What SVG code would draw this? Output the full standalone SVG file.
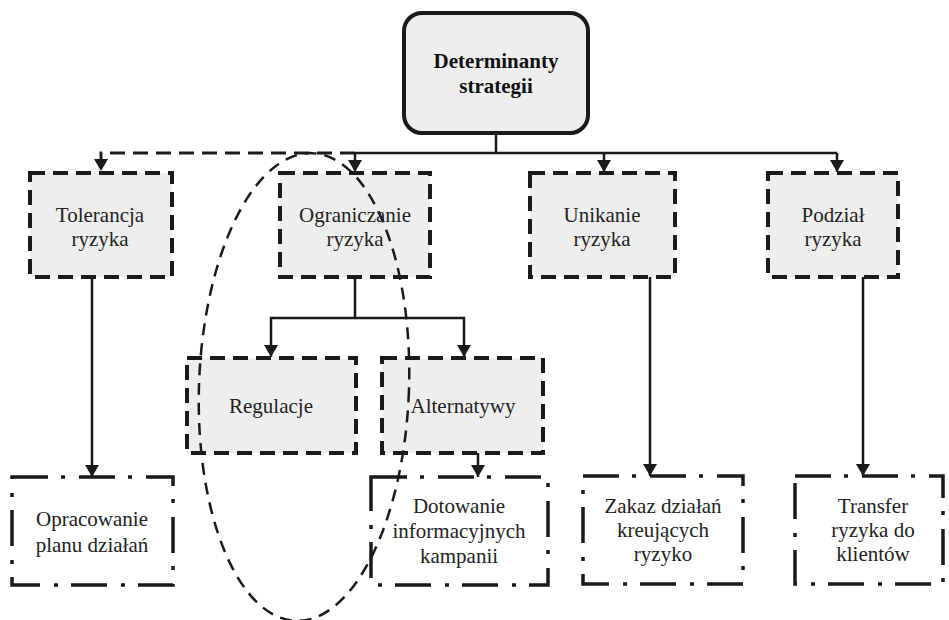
<svg xmlns="http://www.w3.org/2000/svg" width="949" height="620" viewBox="0 0 949 620">
<style>
text{font-family:"Liberation Serif","Times New Roman",serif;font-size:21px;fill:#222;text-anchor:middle}
.b{font-weight:bold;fill:#111}
.top{fill:#eeeeee;stroke:#1a1a1a;stroke-width:4}
.d{fill:#eeeeee;stroke:#1a1a1a;stroke-width:4;stroke-dasharray:15 8}
.dd{fill:#fff;stroke:#1a1a1a;stroke-width:3.5;stroke-dasharray:36 13 4 14}
.c{fill:none;stroke:#1a1a1a;stroke-width:2.5}
.cd{fill:none;stroke:#1a1a1a;stroke-width:3;stroke-dasharray:15 8}
.el{fill:none;stroke:#1a1a1a;stroke-width:2.5;stroke-dasharray:12 8}
</style>
<defs>
<marker id="ah" viewBox="0 0 12 14" refX="12" refY="7" markerWidth="12" markerHeight="14" markerUnits="userSpaceOnUse" orient="auto">
<path d="M0,0 L12,7 L0,14 Z" fill="#1a1a1a"/>
</marker>
</defs>
<g id="n-top"><rect class="top" x="404" y="13" width="184" height="120" rx="18"/><text class="b" x="496" y="68">Determinanty</text><text class="b" x="496" y="93">strategii</text></g>
<g id="n-tol"><rect class="d" x="30" y="173" width="142" height="104"/><text x="100" y="222">Tolerancja</text><text x="100" y="246">ryzyka</text></g>
<g id="n-ogr"><rect class="d" x="280" y="173" width="150" height="104"/><text x="355" y="222">Ograniczanie</text><text x="355" y="246">ryzyka</text></g>
<g id="n-uni"><rect class="d" x="530" y="173" width="145" height="104"/><text x="602" y="222">Unikanie</text><text x="602" y="246">ryzyka</text></g>
<g id="n-pod"><rect class="d" x="768" y="173" width="130" height="104"/><text x="833" y="222">Podział</text><text x="833" y="246">ryzyka</text></g>
<g id="n-reg"><rect class="d" x="187" y="358" width="169" height="95"/><text x="271" y="413">Regulacje</text></g>
<g id="n-alt"><rect class="d" x="382" y="358" width="161" height="95"/><text x="463" y="413">Alternatywy</text></g>
<g id="n-opr"><rect class="dd" x="12" y="477" width="161" height="108"/><text x="92" y="526">Opracowanie</text><text x="92" y="552">planu działań</text></g>
<g id="n-dot"><rect class="dd" x="371" y="477" width="177" height="108"/><text x="459" y="513">Dotowanie</text><text x="459" y="538">informacyjnych</text><text x="459" y="563">kampanii</text></g>
<g id="n-zak"><rect class="dd" x="583" y="476" width="160" height="108"/><text x="663" y="513">Zakaz działań</text><text x="663" y="537">kreujących</text><text x="663" y="561">ryzyko</text></g>
<g id="n-tra"><rect class="dd" x="795" y="476" width="148" height="108"/><text x="873" y="513">Transfer</text><text x="873" y="537">ryzyka do</text><text x="873" y="561">klientów</text></g>
<g id="connectors">
<path class="c" d="M496,133 V153"/>
<path class="c" d="M355,153 H837"/>
<path class="cd" d="M355,153 H101 V171" marker-end="url(#ah)"/>
<path class="c" d="M355,153 V172" marker-end="url(#ah)"/>
<path class="c" d="M604,153 V172" marker-end="url(#ah)"/>
<path class="c" d="M837,153 V172" marker-end="url(#ah)"/>
<path class="c" d="M92,277 V477" marker-end="url(#ah)"/>
<path class="c" d="M355,277 V318 H271 V357" marker-end="url(#ah)"/>
<path class="c" d="M355,318 H464 V357" marker-end="url(#ah)"/>
<path class="c" d="M478,453 V477" marker-end="url(#ah)"/>
<path class="c" d="M650,277 V476" marker-end="url(#ah)"/>
<path class="c" d="M863,277 V476" marker-end="url(#ah)"/>
</g>
<ellipse class="el" cx="304" cy="387" rx="105" ry="234" transform="rotate(2 304 387)"/>
</svg>
